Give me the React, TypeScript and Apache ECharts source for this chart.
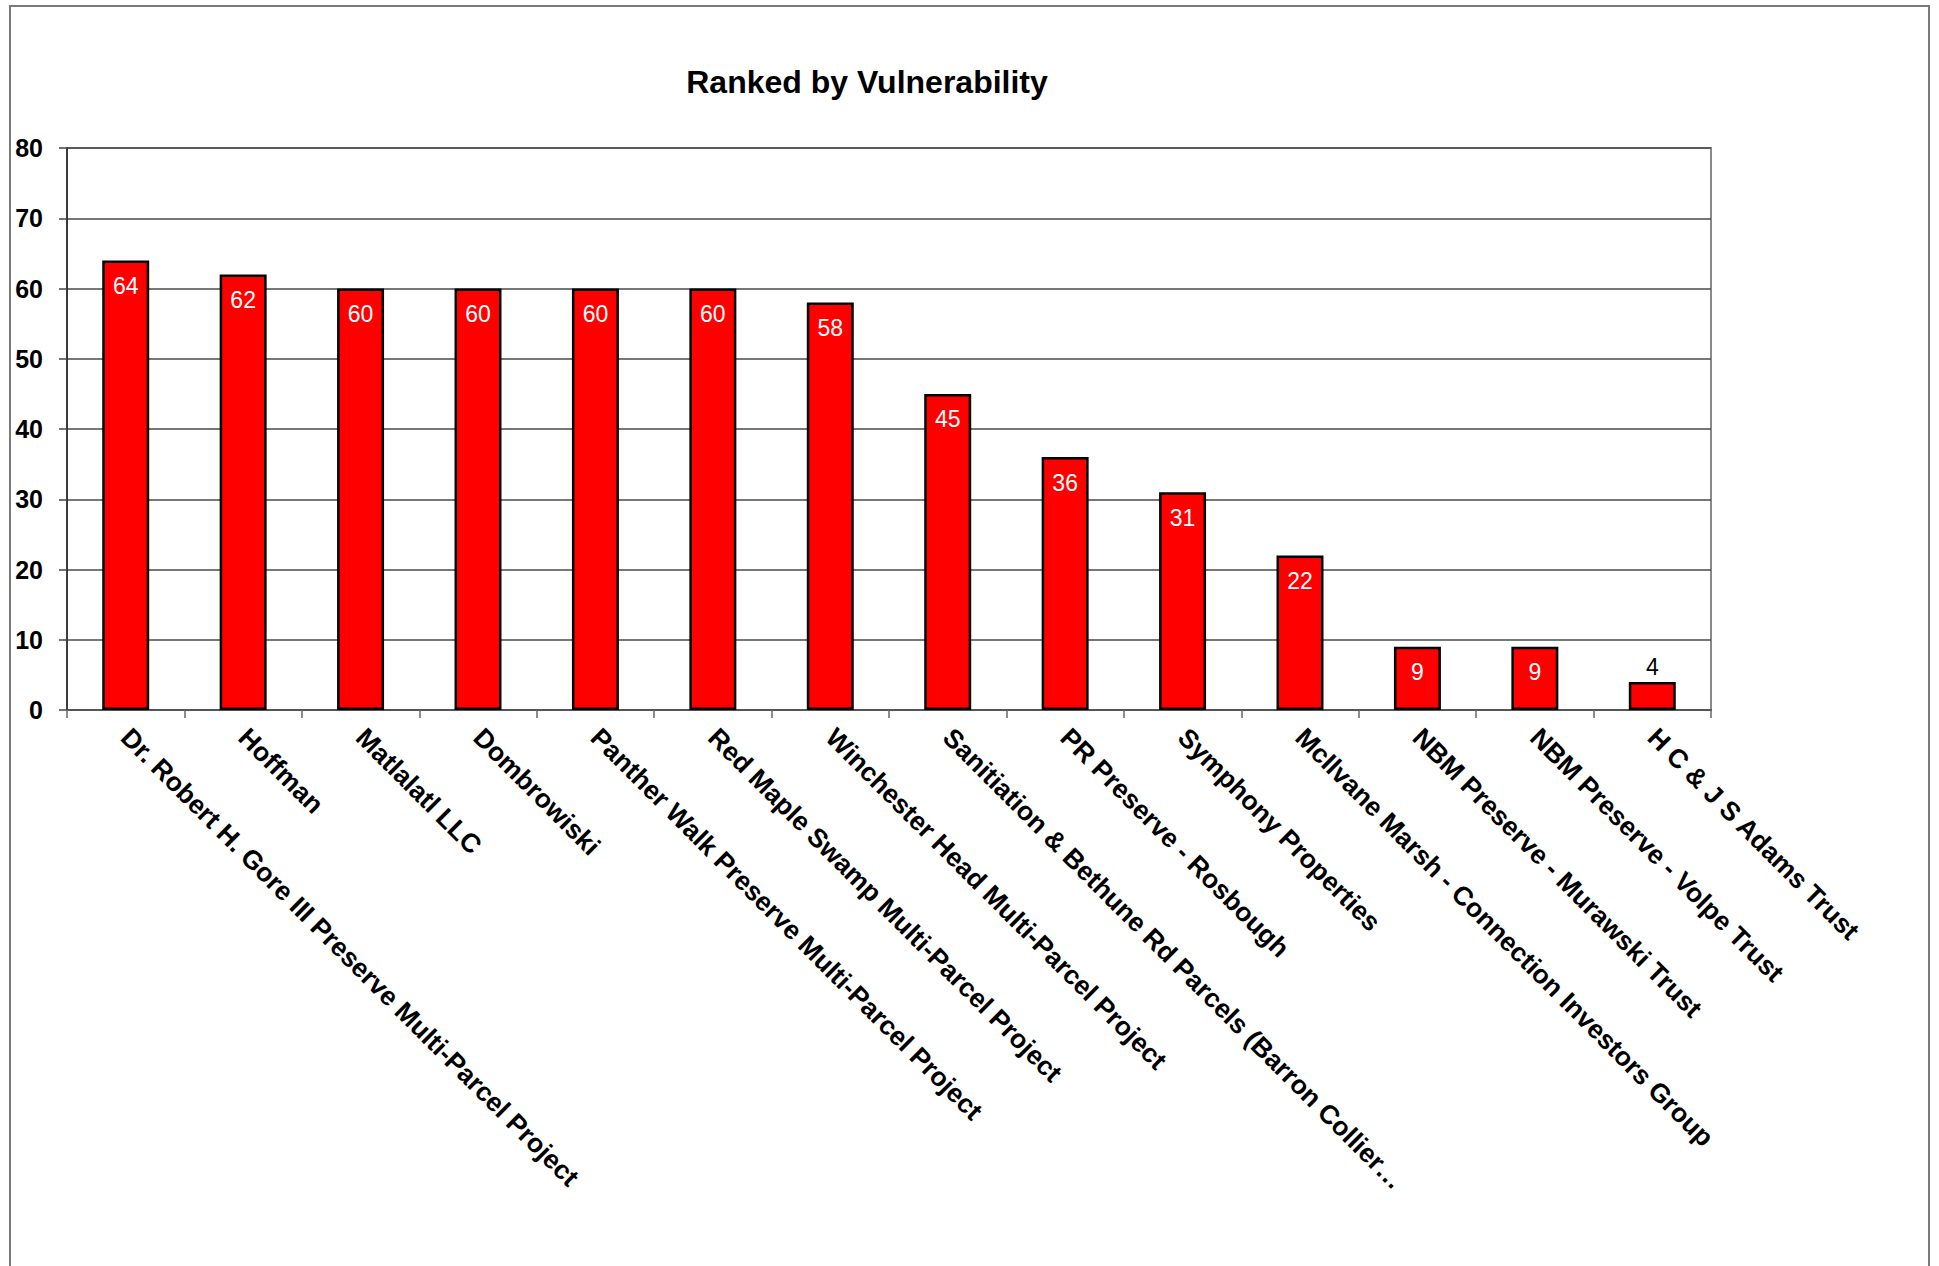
import React, { useEffect, useRef } from "react";
import * as echarts from "echarts";

const categories: string[] = [
  "Dr. Robert H. Gore III Preserve Multi-Parcel Project",
  "Hoffman",
  "Matlalatl LLC",
  "Dombrowiski",
  "Panther Walk Preserve Multi-Parcel Project",
  "Red Maple Swamp Multi-Parcel Project",
  "Winchester Head Multi-Parcel Project",
  "Sanitiation & Bethune Rd Parcels (Barron Collier…",
  "PR Preserve - Rosbough",
  "Symphony Properties",
  "McIlvane Marsh - Connection Investors Group",
  "NBM Preserve - Murawski Trust",
  "NBM Preserve - Volpe Trust",
  "H C & J S Adams Trust",
];

const values: number[] = [64, 62, 60, 60, 60, 60, 58, 45, 36, 31, 22, 9, 9, 4];

const titleText = "Ranked by Vulnerability";
const yMin = 0;
const yMax = 80;
const yInterval = 10;

const FONT = "'Liberation Sans', Arial, Helvetica, sans-serif";

export default function App() {
  const ref = useRef<HTMLDivElement>(null);

  useEffect(() => {
    if (!ref.current) return;
    const chart = echarts.init(ref.current, null, { renderer: "svg" });

    const seriesData = values.map((v) => {
      if (v < 6) {
        return {
          value: v,
          label: {
            position: "top",
            color: "#000",
            distance: 3,
          },
        };
      }
      return { value: v };
    });

    chart.setOption({
      animation: false,
      backgroundColor: "#ffffff",
      title: {
        text: titleText,
        left: 862,
        top: 61,
        textAlign: "center",
        textStyle: {
          fontFamily: FONT,
          fontWeight: "bold",
          fontSize: 32,
          color: "#000",
        },
      },
      graphic: [
        {
          type: "rect",
          shape: { x: 10, y: 6, width: 1919, height: 1320 },
          style: { fill: "none", stroke: "#7a7a7a", lineWidth: 2 },
          z: -1,
        },
      ],
      grid: {
        left: 67,
        right: 228,
        top: 148,
        bottom: 556,
        show: true,
        borderColor: "#8a8a8a",
        borderWidth: 2,
        backgroundColor: "transparent",
      },
      xAxis: {
        type: "category",
        data: categories,
        boundaryGap: true,
        axisLine: { show: true, lineStyle: { color: "#555", width: 2 } },
        axisTick: {
          show: true,
          inside: false,
          length: 8,
          lineStyle: { color: "#666", width: 1.5 },
        },
        axisLabel: {
          interval: 0,
          rotate: -45,
          margin: 23,
          fontFamily: FONT,
          fontWeight: "bold",
          fontSize: 26.5,
          color: "#000",
        },
      },
      yAxis: {
        type: "value",
        min: yMin,
        max: yMax,
        interval: yInterval,
        axisLine: { show: true, lineStyle: { color: "#222", width: 1.5 } },
        axisTick: {
          show: true,
          inside: false,
          length: 8,
          lineStyle: { color: "#444", width: 1.5 },
        },
        splitLine: {
          show: true,
          lineStyle: { color: "#4a4a4a", width: 1.5 },
        },
        axisLabel: {
          margin: 24,
          fontFamily: FONT,
          fontWeight: "bold",
          fontSize: 25,
          color: "#000",
        },
      },
      series: [
        {
          type: "bar",
          data: seriesData,
          barWidth: "40%",
          itemStyle: {
            color: "#ff0000",
            borderColor: "#000",
            borderWidth: 2.5,
          },
          label: {
            show: true,
            position: "insideTop",
            distance: 14,
            color: "#ffffff",
            fontFamily: FONT,
            fontSize: 23,
          },
        },
      ],
    });

    return () => {
      chart.dispose();
    };
  }, []);

  return (
    <div
      ref={ref}
      style={{
        position: "fixed",
        left: 0,
        top: 0,
        width: "1939px",
        height: "1266px",
      }}
    />
  );
}
